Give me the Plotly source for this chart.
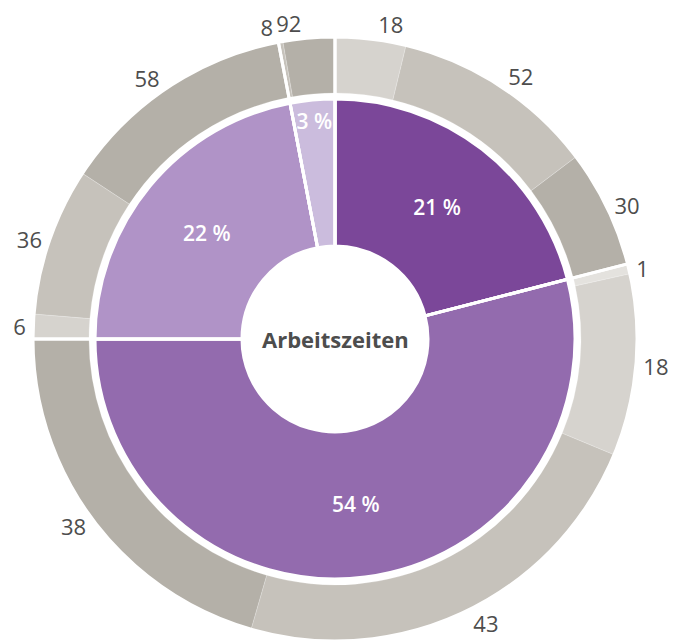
import plotly.graph_objects as go

# inner ring: share of each working-time group (%)
inner_labels = ["Gruppe 1", "Gruppe 2", "Gruppe 3", "Gruppe 4"]
inner_values = [21, 54, 22, 3]

# outer ring: breakdown within each group (%)
outer_g1 = [18, 52, 30]
outer_g2 = [1, 18, 43, 38]
outer_g3 = [6, 36, 58]
outer_g4 = [8, 92]

INNER_COLORS = ["#7B4799", "#936BAE", "#B093C7", "#CBBCDD"]
DARK, MID, LIGHT, LIGHTEST = "#B4B0A8", "#C6C2BB", "#D6D3CE", "#E4E2DE"
OUTER_COLORS = [LIGHT, MID, DARK,
                LIGHTEST, LIGHT, MID, DARK,
                LIGHT, MID, DARK,
                MID, DARK]
FONT = "Open Sans, DejaVu Sans, sans-serif"
LABEL_FONT = dict(family=FONT, size=22, color="#4D4D4D")

groups = [outer_g1, outer_g2, outer_g3, outer_g4]
outer_text, outer_vals = [], []
for parent, subs in zip(inner_values, groups):
    for s in subs:
        outer_text.append(str(s))
        outer_vals.append(parent * s / 100)

# the small "8" label goes on its own trace so it does not push "92" aside
n = len(outer_vals)
split = n - 2
pos_main = ["none" if i == split else "outside" for i in range(n)]
pos_extra = ["outside" if i == split else "none" for i in range(n)]

# page body has an 8px margin, so the centre is shifted back by that much
W, H = 676, 641
cx, cy = 327 / W, 310 / H


def dom(r):
    return dict(x=[max(0, cx - r / W), min(1, cx + r / W)],
                y=[max(0, cy - r / H), min(1, cy + r / H)])


fig = go.Figure()

fig.add_trace(go.Pie(
    values=outer_vals, text=outer_text, textinfo="text",
    textposition=pos_main, sort=False, direction="clockwise",
    hole=246 / 302, domain=dom(302), automargin=False,
    marker=dict(colors=OUTER_COLORS, line=dict(color="rgba(255,255,255,0.35)", width=0.6)),
    outsidetextfont=LABEL_FONT,
    showlegend=False, hoverinfo="skip",
))

fig.add_trace(go.Pie(
    values=outer_vals, text=outer_text, textinfo="text",
    textposition=pos_extra, sort=False, direction="clockwise",
    hole=246 / 302, domain=dom(302), automargin=False,
    marker=dict(colors=["rgba(0,0,0,0)"] * n, line=dict(width=0)),
    outsidetextfont=LABEL_FONT,
    showlegend=False, hoverinfo="skip",
))

fig.add_trace(go.Pie(
    values=inner_values, labels=inner_labels,
    text=[f"{v} %" for v in inner_values], textinfo="text",
    textposition="inside", insidetextorientation="horizontal",
    sort=False, direction="clockwise",
    hole=93 / 240, domain=dom(240), automargin=False,
    marker=dict(colors=INNER_COLORS, line=dict(color="white", width=3)),
    insidetextfont=dict(family=FONT, size=21, color="white", weight=600),
    showlegend=False, hoverinfo="label+value",
))

# white separators at group boundaries across the outer ring
fig.add_trace(go.Pie(
    values=inner_values, textinfo="none", sort=False, direction="clockwise",
    domain=dom(302), automargin=False,
    marker=dict(colors=["rgba(0,0,0,0)"] * 4, line=dict(color="white", width=3)),
    showlegend=False, hoverinfo="skip",
))

fig.update_layout(
    width=W, height=H,
    margin=dict(l=0, r=0, t=0, b=0, autoexpand=False),
    paper_bgcolor="white", plot_bgcolor="white",
    uniformtext=dict(minsize=21, mode="show"),
    annotations=[dict(
        text="<b>Arbeitszeiten</b>", x=cx, y=cy, xref="paper", yref="paper",
        showarrow=False, font=dict(family=FONT, size=22, color="#4D4D4D"),
    )],
)

fig.write_html("out.html")
